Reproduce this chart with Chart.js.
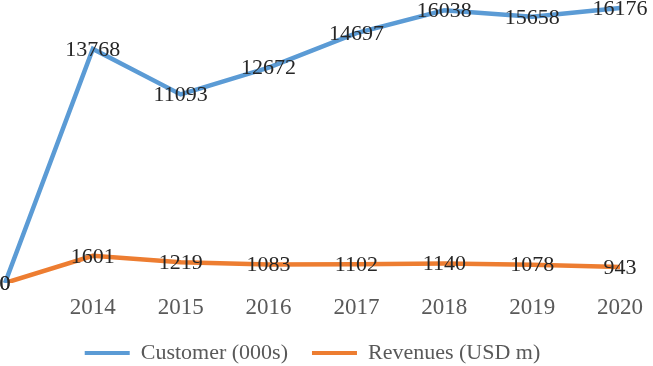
<!DOCTYPE html>
<html><head><meta charset="utf-8">
<script src="https://cdn.jsdelivr.net/npm/chart.js@4/dist/chart.umd.min.js"></script>
<style>html,body{margin:0;padding:0;background:#fff}canvas{display:block}</style>
</head><body>
<canvas id="c" width="653" height="366"></canvas>
<script>
const categories = ["", "2014", "2015", "2016", "2017", "2018", "2019", "2020"];
const customers = [0, 13768, 11093, 12672, 14697, 16038, 15658, 16176];
const revenues = [0, 1601, 1219, 1083, 1102, 1140, 1078, 943];
const seriesNames = ["Customer (000s)", "Revenues (USD m)"];

const labelPlugin = {
  id: 'pointLabels',
  afterDatasetsDraw(chart) {
    const ctx = chart.ctx;
    ctx.save();
    ctx.font = '22px "Liberation Serif", "Times New Roman", serif';
    ctx.fillStyle = '#262626';
    ctx.textAlign = 'center';
    ctx.textBaseline = 'middle';
    chart.data.datasets.forEach((ds, i) => {
      const meta = chart.getDatasetMeta(i);
      meta.data.forEach((pt, j) => {
        ctx.fillText(String(ds.data[j]), pt.x, pt.y + 1);
      });
    });
    ctx.restore();
  }
};

new Chart(document.getElementById('c'), {
  type: 'line',
  data: {
    labels: categories,
    datasets: [
      { label: seriesNames[0], data: customers, borderColor: '#5B9BD5', backgroundColor: '#5B9BD5', borderWidth: 4.5, pointRadius: 0, tension: 0 },
      { label: seriesNames[1], data: revenues, borderColor: '#ED7D31', backgroundColor: '#ED7D31', borderWidth: 4.5, pointRadius: 0, tension: 0 }
    ]
  },
  options: {
    responsive: false,
    animation: false,
    devicePixelRatio: 1,
    layout: { padding: { left: 5, right: 33, top: 3, bottom: -8 } },
    scales: {
      x: {
        offset: false,
        grid: { display: false, drawTicks: false },
        border: { display: false },
        ticks: { color: '#595959', font: { family: '"Liberation Serif", serif', size: 23 }, padding: 11, maxRotation: 0 },
        afterFit(scale) { scale.height = 35; scale.paddingLeft = 0; scale.paddingRight = 0; }
      },
      y: { display: false, min: 0, max: 16470 }
    },
    plugins: {
      legend: {
        position: 'bottom',
        labels: {
          boxWidth: 45, boxHeight: 4, padding: 24,
          color: '#595959',
          font: { family: '"Liberation Serif", serif', size: 22 },
          generateLabels(chart) {
            const items = Chart.defaults.plugins.legend.labels.generateLabels(chart);
            items.forEach(it => { it.lineWidth = 0; });
            return items;
          }
        }
      },
      tooltip: { enabled: false }
    }
  },
  plugins: [labelPlugin]
});
</script>
</body></html>
